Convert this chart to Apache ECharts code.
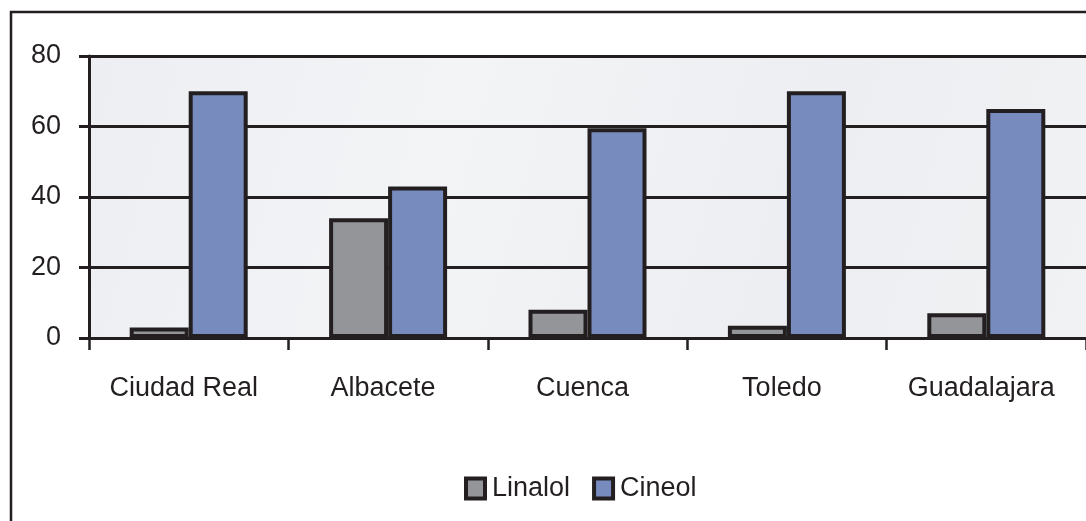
<!DOCTYPE html>
<html>
<head>
<meta charset="utf-8">
<script src="https://cdn.jsdelivr.net/npm/echarts@6/dist/echarts.min.js"></script>
<style>
  html, body { margin: 0; padding: 0; background: #ffffff; }
  #chart { width: 1086px; height: 521px; }
</style>
</head>
<body>
<div id="chart"></div>
<script>
// Provinces of Castilla-La Mancha
const categories = ['Ciudad Real', 'Albacete', 'Cuenca', 'Toledo', 'Guadalajara'];
// Percentage of each compound
const linalol = [3, 34, 8, 3.5, 7];
const cineol = [70, 43, 59.5, 70, 65];
const yTicks = [0, 20, 40, 60, 80];

const ink = '#231f20';
const font = "'Liberation Sans', Arial, sans-serif";

const chart = echarts.init(document.getElementById('chart'), null, { renderer: 'canvas' });

chart.setOption({
  animation: false,
  backgroundColor: '#ffffff',
  graphic: [{
    type: 'rect',
    shape: { x: 11, y: 12, width: 1200, height: 1000 },
    style: { fill: 'none', stroke: ink, lineWidth: 2.5 },
    silent: true,
    z: 0
  }],
  grid: {
    left: 89, top: 56, width: 1010, height: 282,
    show: true,
    borderWidth: 0,
    backgroundColor: {
      type: 'linear', x: 0, y: 0, x2: 1, y2: 1,
      colorStops: [
        { offset: 0, color: '#edeef2' },
        { offset: 0.35, color: '#f3f4f6' },
        { offset: 0.7, color: '#edeef1' },
        { offset: 1, color: '#f1f2f4' }
      ]
    }
  },
  legend: {
    data: ['Linalol', 'Cineol'],
    left: 459,
    top: 470,
    itemWidth: 19,
    itemHeight: 20,
    itemGap: 22,
    icon: 'rect',
    itemStyle: { borderColor: ink, borderWidth: 4 },
    textStyle: { fontFamily: font, fontSize: 27, color: ink, padding: [0, 0, 0, 2] }
  },
  xAxis: {
    type: 'category',
    data: categories,
    axisLine: { show: true, lineStyle: { color: ink, width: 3 } },
    axisTick: { show: true, length: 12, lineStyle: { color: ink, width: 2.5 } },
    axisLabel: { margin: 37, fontFamily: font, fontSize: 27, color: ink, padding: [0, 10, 0, 0] },
    splitLine: { show: false }
  },
  yAxis: {
    type: 'value',
    min: yTicks[0],
    max: yTicks[yTicks.length - 1],
    interval: 20,
    axisLine: { show: true, lineStyle: { color: ink, width: 3 } },
    axisTick: { show: true, length: 10, lineStyle: { color: ink, width: 3 } },
    axisLabel: { margin: 28, fontFamily: font, fontSize: 27, color: ink },
    splitLine: { show: true, lineStyle: { color: ink, width: 3 } }
  },
  series: [
    {
      name: 'Linalol',
      type: 'bar',
      data: linalol,
      barWidth: 59,
      barGap: '0%',
      itemStyle: { color: '#939598', borderColor: ink, borderWidth: 4 }
    },
    {
      name: 'Cineol',
      type: 'bar',
      data: cineol,
      barWidth: 59,
      barGap: '0%',
      itemStyle: { color: '#788bbf', borderColor: ink, borderWidth: 4 }
    }
  ]
});
</script>
</body>
</html>
